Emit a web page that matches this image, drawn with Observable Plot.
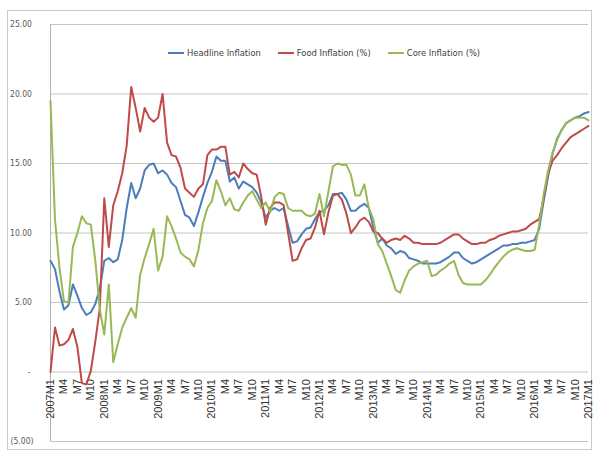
<!DOCTYPE html>
<html><head><meta charset="utf-8">
<script src="https://cdn.jsdelivr.net/npm/d3@7"></script>
<script src="https://cdn.jsdelivr.net/npm/@observablehq/plot@0.6"></script>
<style>
body{margin:0;background:#fff;}
#wrap{position:relative;width:595px;height:451px;overflow:hidden;background:#fff;}
#border{position:absolute;left:7px;top:10px;width:585px;height:440px;border:1px solid #c9c9c9;box-sizing:border-box;}
#chart{position:absolute;left:0;top:0;}
#legend{position:absolute;left:168px;top:47px;display:flex;gap:17px;font:9.3px "Liberation Sans Narrow","DejaVu Sans Condensed",sans-serif;color:#404040;white-space:nowrap;}
.item{display:flex;align-items:center;gap:3px;}
.sw{width:16px;height:2px;}
</style></head>
<body><div id="wrap"><div id="border"></div><div id="chart"></div><div id="legend"></div></div>
<script>
const seriesNames = ["Headline Inflation", "Food Inflation (%)", "Core Inflation (%)"];
const seriesColors = ["#4a7ebb", "#be4b48", "#98b954"];

// Monthly, 2007M1 .. 2017M1
const headline = [
 8.0, 7.4, 5.8, 4.5, 4.8, 6.3, 5.5, 4.6, 4.1, 4.3, 4.9, 6.0,
 8.0, 8.2, 7.9, 8.1, 9.5, 11.8, 13.6, 12.5, 13.2, 14.5, 14.9, 15.0,
 14.3, 14.5, 14.2, 13.6, 13.3, 12.3, 11.3, 11.1, 10.5, 11.5, 12.6, 13.6,
 14.4, 15.5, 15.2, 15.2, 13.7, 14.0, 13.2, 13.7, 13.5, 13.3, 12.9, 12.2,
 11.1, 11.6, 11.8, 11.6, 11.8, 10.5, 9.3, 9.4, 9.9, 10.3, 10.4, 11.0,
 11.5, 11.6, 12.0, 12.8, 12.8, 12.9, 12.4, 11.6, 11.6, 11.9, 12.1, 11.8,
 10.4, 9.3, 9.6, 9.1, 8.9, 8.5, 8.7, 8.6, 8.2, 8.1, 8.0, 7.8,
 7.8, 7.8, 7.8, 7.9, 8.1, 8.3, 8.6, 8.6, 8.2, 8.0, 7.8, 7.9,
 8.1, 8.3, 8.5, 8.7, 8.9, 9.1, 9.1, 9.2, 9.2, 9.3, 9.3, 9.4,
 9.5, 10.3, 12.3, 14.1, 15.7, 16.8, 17.4, 17.9, 18.1, 18.3, 18.4, 18.6,
 18.7
];
const food = [
 0.0, 3.2, 1.9, 2.0, 2.3, 3.1, 1.8, -0.8, -0.9, 0.1, 2.2, 4.6,
 12.5, 9.0, 12.0, 13.0, 14.3, 16.3, 20.5, 19.0, 17.3, 19.0, 18.3, 18.0,
 18.3, 20.0, 16.5, 15.6, 15.5, 14.7, 13.2, 12.9, 12.6, 13.2, 13.5, 15.6,
 16.0, 16.0, 16.2, 16.2, 14.2, 14.4, 14.0, 15.0, 14.6, 14.3, 14.2, 12.6,
 10.6, 11.8, 12.2, 12.2, 12.0, 10.0, 8.0, 8.1, 8.9, 9.5, 9.6, 10.4,
 11.6, 9.9, 11.5, 12.7, 12.8, 12.4, 11.4, 10.0, 10.4, 10.9, 11.1, 10.8,
 10.1, 10.0, 9.6, 9.3, 9.5, 9.6, 9.5, 9.8, 9.6, 9.3, 9.3, 9.2,
 9.2, 9.2, 9.2, 9.3, 9.5, 9.7, 9.9, 9.9, 9.6, 9.4, 9.2, 9.2,
 9.3, 9.3, 9.5, 9.6, 9.8, 9.9, 10.0, 10.1, 10.1, 10.2, 10.3, 10.6,
 10.8, 11.0, 12.5, 14.3, 15.2, 15.6, 16.1, 16.5, 16.9, 17.1, 17.3, 17.5,
 17.7
];
const core = [
 19.5, 11.0, 7.5, 5.1, 5.0, 9.0, 10.0, 11.2, 10.7, 10.6, 8.0, 4.5,
 2.7, 6.3, 0.7, 2.0, 3.2, 3.9, 4.6, 3.9, 7.0, 8.2, 9.2, 10.3,
 7.3, 8.3, 11.2, 10.5, 9.6, 8.6, 8.3, 8.1, 7.6, 8.8, 10.7, 11.8,
 12.3, 13.8, 13.0, 12.0, 12.5, 11.7, 11.6, 12.2, 12.7, 13.0, 12.4, 11.8,
 12.2, 11.5, 12.6, 12.9, 12.8, 11.8, 11.6, 11.6, 11.6, 11.3, 11.2, 11.4,
 12.8, 11.2, 13.0, 14.8, 15.0, 14.9, 14.9, 14.2, 12.7, 12.7, 13.5, 11.8,
 11.0, 9.2, 8.7, 7.8, 6.9, 5.9, 5.7, 6.6, 7.3, 7.6, 7.8, 7.9,
 8.0, 6.9, 7.0, 7.3, 7.5, 7.8, 8.0, 7.0, 6.4, 6.3, 6.3, 6.3,
 6.3, 6.6, 7.0, 7.5, 7.9, 8.3, 8.6, 8.8, 8.9, 8.8, 8.7, 8.7,
 8.8, 10.6, 12.8, 14.5, 15.8, 16.7, 17.4, 17.9, 18.1, 18.3, 18.3, 18.3,
 18.1
];

// category tick labels, one every 3 months
const tickLabels = [
 "2007M1","M4","M7","M10","2008M1","M4","M7","M10","2009M1","M4","M7","M10",
 "2010M1","M4","M7","M10","2011M1","M4","M7","M10","2012M1","M4","M7","M10",
 "2013M1","M4","M7","M10","2014M1","M4","M7","M10","2015M1","M4","M7","M10",
 "2016M1","M4","M7","M10","2017M1"
];
const yTicks = [-5, 0, 5, 10, 15, 20, 25];

const seriesValues = [headline, food, core];
const data = seriesNames.flatMap((name, s) =>
  seriesValues[s].map((v, i) => ({series: name, i, value: v})));
const ticks = tickLabels.map((label, k) => ({label, i: k * 3}));

const yFormat = d => d === 0 ? "-\u2009\u2009" : d < 0 ? "(" + Math.abs(d).toFixed(2) + ")" : d.toFixed(2) + "\u2009";

const chart = Plot.plot({
  width: 595,
  height: 451,
  marginTop: 24,
  marginBottom: 10,
  marginLeft: 50,
  marginRight: 7,
  style: {background: "transparent", color: "#595959", fontFamily: "'Liberation Sans Narrow','DejaVu Sans Condensed',sans-serif"},
  x: {type: "linear", domain: [0, 120], axis: null},
  y: {domain: [-5, 25], axis: null},
  color: {domain: seriesNames, range: seriesColors},
  marks: [
    Plot.ruleY(yTicks, {stroke: "#c4c4c4", strokeWidth: 1}),
    Plot.ruleX([0], {stroke: "#b0b0b0", strokeWidth: 1}),
    Plot.axisY({ticks: yTicks, tickSize: 0, tickPadding: 17, tickFormat: yFormat, fontSize: 8.5, label: null}),
    Plot.text(ticks, {x: "i", y: () => 0, text: "label", rotate: -90, textAnchor: "end", dy: 7,
      fontSize: 11, fill: "#333333", fontFamily: "'Liberation Sans',Arial,sans-serif"}),
    Plot.line(data, {x: "i", y: "value", z: "series", stroke: "series", strokeWidth: 2, strokeLinejoin: "round"})
  ]
});
document.getElementById("chart").appendChild(chart);

const legend = d3.select("#legend");
seriesNames.forEach((name, s) => {
  const it = legend.append("div").attr("class", "item");
  it.append("div").attr("class", "sw").style("background", seriesColors[s]);
  it.append("span").text(name);
});
</script>
</body></html>
